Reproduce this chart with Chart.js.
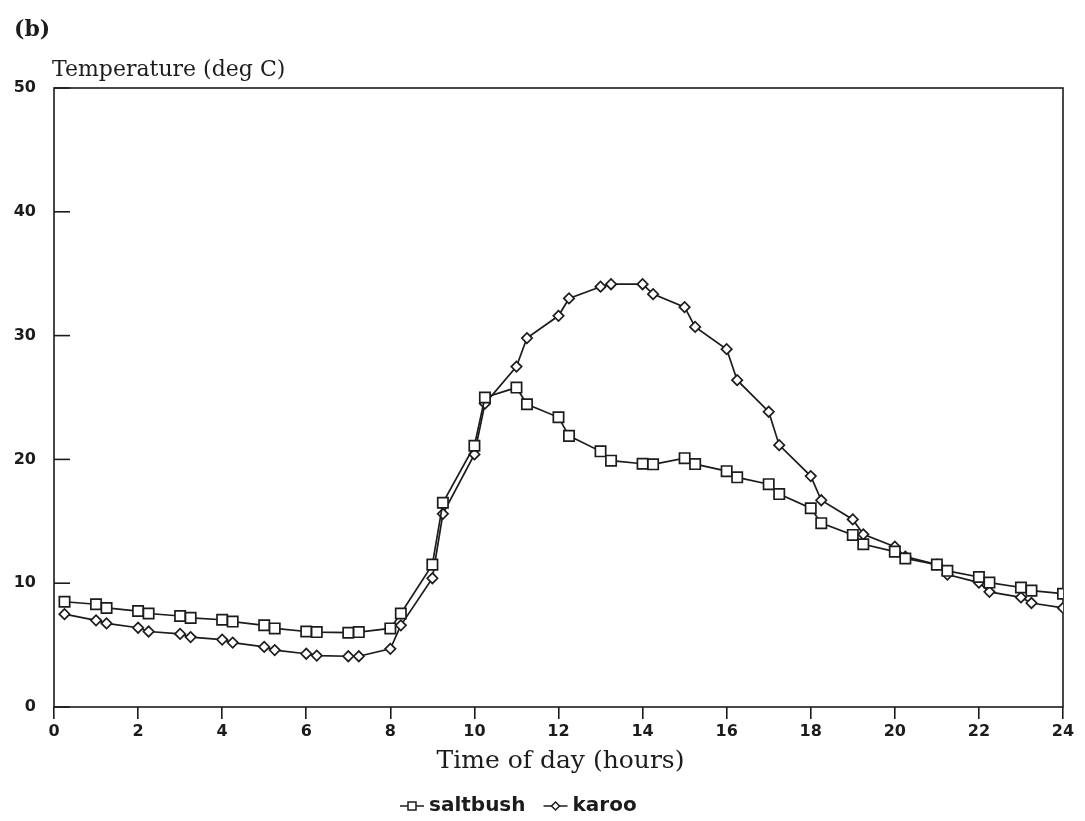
<!DOCTYPE html>
<html>
<head>
<meta charset="utf-8">
<script src="https://cdn.jsdelivr.net/npm/chart.js@4/dist/chart.umd.min.js"></script>
<style>
html,body{margin:0;padding:0;background:#fff;}
#wrap{width:1085px;height:821px;}
</style>
</head>
<body>
<div id="wrap"><canvas id="c" width="1085" height="821"></canvas></div>
<script>
const hours = [0.25,1,1.25,2,2.25,3,3.25,4,4.25,5,5.25,6,6.25,7,7.25,8,8.25,9,9.25,10,10.25,11,11.25,12,12.25,13,13.25,14,14.25,15,15.25,16,16.25,17,17.25,18,18.25,19,19.25,20,20.25,21,21.25,22,22.25,23,23.25,24];
const saltbush = [8.5,8.3,8.0,7.75,7.55,7.35,7.2,7.05,6.9,6.6,6.35,6.1,6.05,6.0,6.05,6.35,7.55,11.5,16.5,21.1,25.0,25.8,24.45,23.4,21.9,20.65,19.9,19.65,19.6,20.1,19.62,19.05,18.55,18.0,17.2,16.05,14.85,13.9,13.15,12.55,12.0,11.5,11.0,10.5,10.05,9.65,9.4,9.15];
const karoo = [7.5,7.0,6.75,6.4,6.1,5.9,5.65,5.45,5.2,4.85,4.6,4.3,4.15,4.1,4.1,4.7,6.6,10.4,15.6,20.4,24.5,27.5,29.8,31.6,33.0,33.95,34.15,34.15,33.35,32.3,30.7,28.9,26.4,23.85,21.15,18.65,16.7,15.15,13.95,12.95,12.15,11.5,10.7,10.05,9.3,8.85,8.4,8.0];
const xTicks = [0,2,4,6,8,10,12,14,16,18,20,22,24];
const yTicks = [0,10,20,30,40,50];
const seriesNames = ['saltbush','karoo'];
const panelLabel = '(b)';
const yTitle = 'Temperature (deg C)';
const xTitle = 'Time of day (hours)';

const INK = '#1c1c1c';
const toPts = (vals) => vals.map((v,i)=>({x:hours[i], y:v}));

const decor = {
  id:'decor',
  beforeDatasetsDraw(chart){
    const {ctx, chartArea:a, scales:{y}} = chart;
    ctx.save();
    ctx.strokeStyle = INK; ctx.lineWidth = 1.6;
    ctx.strokeRect(a.left, a.top, a.right-a.left, a.bottom-a.top);
    yTicks.forEach(v=>{
      const py = y.getPixelForValue(v);
      ctx.beginPath(); ctx.moveTo(a.left, py); ctx.lineTo(a.left+16, py); ctx.stroke();
    });
    ctx.restore();
  },
  afterDraw(chart){
    const {ctx, chartArea:a} = chart;
    ctx.save();
    ctx.fillStyle = INK;
    ctx.textBaseline = 'middle';
    ctx.textAlign = 'left';
    ctx.font = 'bold 22px "DejaVu Serif"';
    ctx.fillText(panelLabel, 14, 30);
    ctx.font = '22px "DejaVu Serif"';
    ctx.fillText(yTitle, 52, 70);
    ctx.textAlign = 'center';
    ctx.font = '25px "DejaVu Serif"';
    ctx.fillText(xTitle, (a.left+a.right)/2 + 2, 761);
    // legend
    const ly = 806;
    ctx.font = 'bold 20px "DejaVu Sans"';
    ctx.textAlign = 'left';
    let x = 400;
    chart.data.datasets.forEach((ds, i)=>{
      ctx.strokeStyle = INK; ctx.lineWidth = 1.5;
      ctx.beginPath(); ctx.moveTo(x, ly); ctx.lineTo(x+24, ly); ctx.stroke();
      ctx.fillStyle = '#fff';
      ctx.beginPath();
      if (ds.pointStyle === 'rect') { ctx.rect(x+8, ly-4, 8, 8); }
      else { ctx.moveTo(x+12, ly-4); ctx.lineTo(x+16, ly); ctx.lineTo(x+12, ly+4); ctx.lineTo(x+8, ly); ctx.closePath(); }
      ctx.fill(); ctx.stroke();
      ctx.fillStyle = INK;
      ctx.fillText(ds.label, x+29, ly);
      x += 29 + ctx.measureText(ds.label).width + 18;
    });
    ctx.restore();
  }
};

new Chart(document.getElementById('c'), {
  type: 'line',
  data: {
    datasets: [
      {label: seriesNames[0], data: toPts(saltbush), borderColor: INK, borderWidth: 1.7,
       pointStyle: 'rect', pointRadius: 7.3, pointBorderWidth: 1.7, pointBorderColor: INK,
       pointBackgroundColor: '#fff', tension: 0, fill: false},
      {label: seriesNames[1], data: toPts(karoo), borderColor: INK, borderWidth: 1.7,
       pointStyle: 'rectRot', pointRadius: 5.2, pointBorderWidth: 1.7, pointBorderColor: INK,
       pointBackgroundColor: '#fff', tension: 0, fill: false}
    ]
  },
  options: {
    responsive: false,
    animation: false,
    layout: {padding: {left: 0, right: 22, top: 88, bottom: 0}},
    plugins: {legend: {display: false}, tooltip: {enabled: false}},
    scales: {
      x: {
        type: 'linear', min: 0, max: 24,
        afterBuildTicks: (s)=>{ s.ticks = xTicks.map(v=>({value:v})); },
        afterFit: (s)=>{ s.height = 114; },
        border: {display: false},
        grid: {drawOnChartArea: false, drawTicks: true, tickLength: 12, color: INK, lineWidth: 1.6},
        ticks: {padding: 3, color: INK, font: {family: '"DejaVu Sans"', weight: 'bold', size: 16}, maxRotation: 0}
      },
      y: {
        min: 0, max: 50,
        afterBuildTicks: (s)=>{ s.ticks = yTicks.map(v=>({value:v})); },
        afterFit: (s)=>{ s.width = 54; },
        border: {display: false},
        grid: {display: false, drawTicks: false},
        ticks: {padding: 18, color: INK, font: {family: '"DejaVu Sans"', weight: 'bold', size: 16}}
      }
    }
  },
  plugins: [decor]
});
</script>
</body>
</html>
